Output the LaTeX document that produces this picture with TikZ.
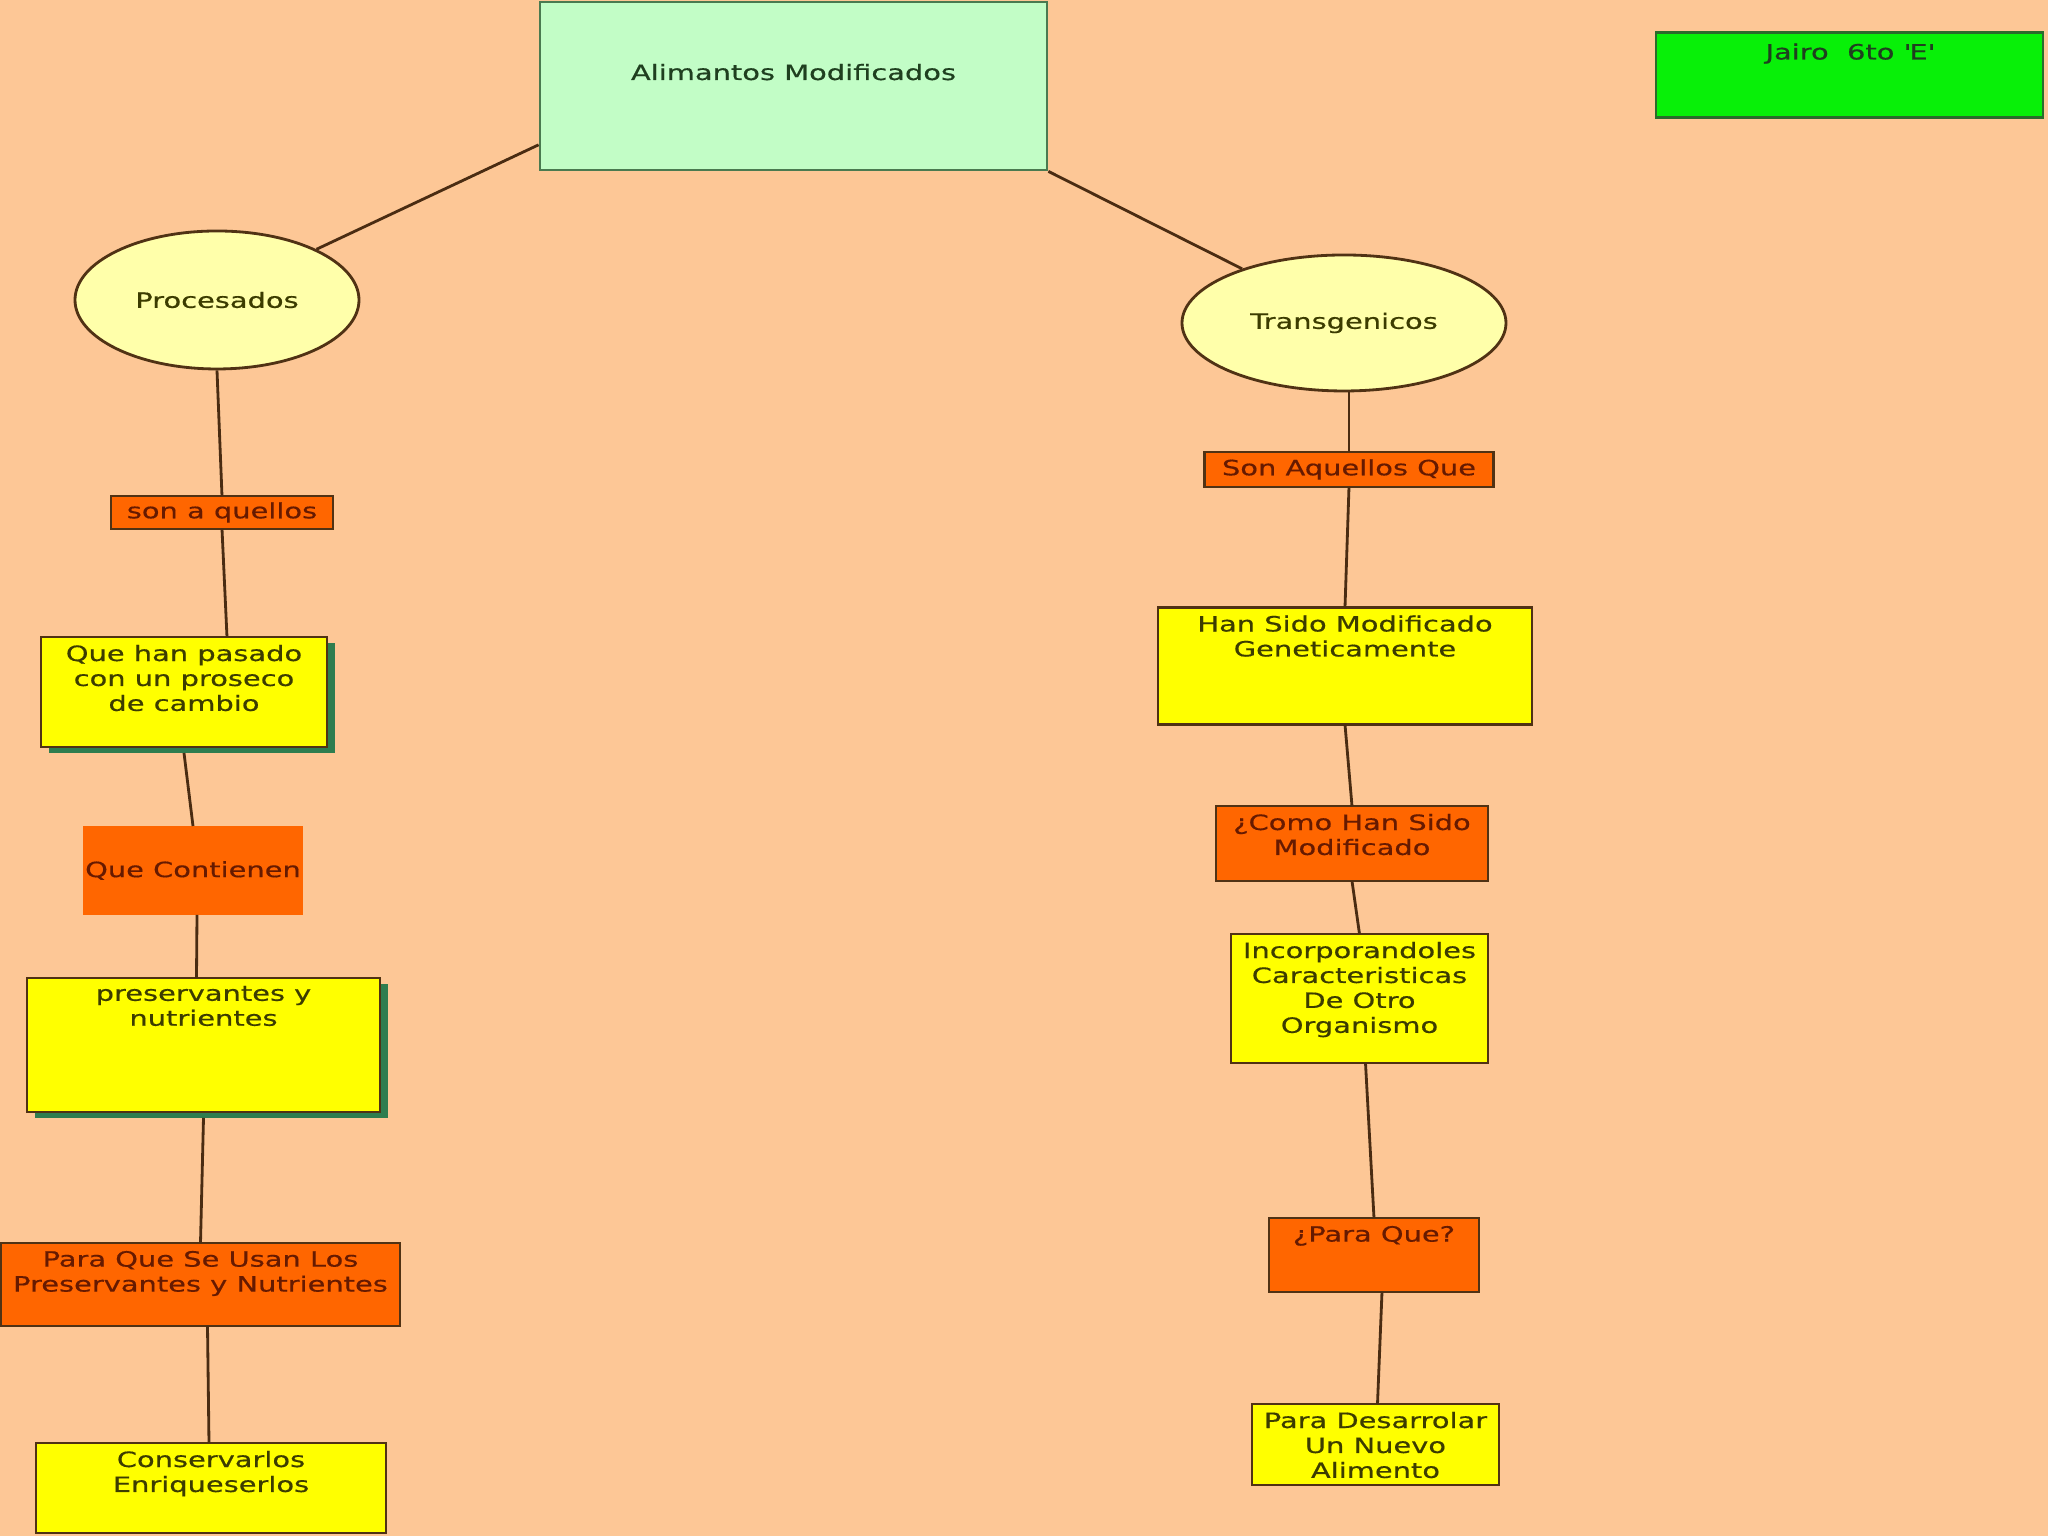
\documentclass[tikz,border=0pt]{standalone}
\usepackage{fontspec}
\setmainfont{DejaVu Sans}[FakeStretch=1.37,FakeBold=0.5]
\usetikzlibrary{shapes.geometric,shadows}

\definecolor{fondo}{HTML}{FDC796}
\definecolor{verdeclaro}{HTML}{C2FDC6}
\definecolor{bordeverde}{HTML}{4A7A50}
\definecolor{verdejairo}{HTML}{08F008}
\definecolor{bordejairo}{HTML}{2B6B2B}
\definecolor{crema}{HTML}{FFFFAA}
\definecolor{amarillo}{HTML}{FFFF00}
\definecolor{anaranjado}{HTML}{FF6600}
\definecolor{borde}{HTML}{503214}
\definecolor{linea}{HTML}{4A2C12}
\definecolor{sombraverde}{HTML}{2E7D4F}
\definecolor{textoama}{HTML}{3C3C00}
\definecolor{textonar}{HTML}{661A00}
\definecolor{textoverde}{HTML}{1F3F1F}

\begin{document}
\begin{tikzpicture}[
		font=\fontsize{6}{7.1}\selectfont,
		line width=0.8pt,
		caja/.style={draw=borde, inner sep=0pt, outer sep=0pt},
		cajaama/.style={caja, fill=amarillo, text=textoama},
		cajanar/.style={caja, fill=anaranjado, text=textonar},
		ovalo/.style={ellipse, draw=borde, fill=crema, inner sep=0pt, text=textoama},
		sombra/.style={drop shadow={shadow xshift=0.08cm, shadow yshift=-0.06cm, fill=sombraverde, opacity=1}},
		arriba/.style n args={3}{
				execute at begin node={\begin{minipage}[c][#2][t]{#1}\centering\vspace*{#3}},
				execute at end node={\end{minipage}},
			},
		liga/.style={draw=linea},
	]
	\useasboundingbox (0,0) rectangle (20.48,15.36);
	\fill[fondo] (0,0) rectangle (20.48,15.36);
	%
	\node[fill=verdeclaro, draw=bordeverde, inner sep=0pt, text=textoverde,
		arriba={5.07cm}{1.68cm}{0.62cm}] (alim) at (7.935,14.50) {Alimantos Modificados};
	\node[fill=verdejairo, draw=bordejairo, inner sep=0pt, text=textoverde,
		arriba={3.87cm}{0.85cm}{0.11cm}] (jairo) at (18.495,14.61) {Jairo\ \ 6to \textquotesingle E\textquotesingle};
	\node[ovalo, minimum width=2.84cm, minimum height=1.38cm] (proc) at (2.17,12.36) {Procesados};
	\node[ovalo, minimum width=3.24cm, minimum height=1.36cm] (trans) at (13.44,12.13) {Transgenicos};
	% procesados
	\node[cajanar, minimum width=2.22cm, minimum height=0.33cm] (sonq) at (2.22,10.235) {son a quellos};
	\node[cajaama, sombra, arriba={2.86cm}{1.10cm}{0.08cm}] (queh) at (1.84,8.44) {Que han pasado\\con un proseco\\de cambio};
	\node[cajanar, draw=none, minimum width=2.20cm, minimum height=0.89cm] (cont) at (1.93,6.655) {Que Contienen};
	\node[cajaama, sombra, arriba={3.53cm}{1.34cm}{0.08cm}] (pres) at (2.035,4.91) {preservantes y\\nutrientes};
	\node[cajanar, arriba={3.99cm}{0.83cm}{0.08cm}] (usan) at (2.005,2.515) {Para Que Se Usan Los\\Preservantes y Nutrientes};
	\node[cajaama, arriba={3.50cm}{0.90cm}{0.08cm}] (cons) at (2.11,0.48) {Conservarlos\\Enriqueserlos};
	% transgenicos
	\node[cajanar, minimum width=2.885cm, minimum height=0.35cm] (sonaq) at (13.49,10.665) {Son Aquellos Que};
	\node[cajaama, arriba={3.74cm}{1.17cm}{0.08cm}] (hans) at (13.45,8.70) {Han Sido Modificado\\Geneticamente};
	\node[cajanar, arriba={2.72cm}{0.75cm}{0.08cm}] (como) at (13.52,6.925) {¿Como Han Sido\\Modificado};
	\node[cajaama, arriba={2.57cm}{1.29cm}{0.08cm}] (inc) at (13.595,5.375) {Incorporandoles\\Caracteristicas\\De Otro\\Organismo};
	\node[cajanar, arriba={2.10cm}{0.74cm}{0.08cm}] (paraq) at (13.74,2.81) {¿Para Que?};
	\node[cajaama, arriba={2.47cm}{0.81cm}{0.08cm}] (desa) at (13.755,0.915) {Para Desarrolar\\Un Nuevo\\Alimento};
	%
	\draw[liga] (alim.193) -- (proc.27);
	\draw[liga] (alim.south east) -- (trans.152);
	\draw[liga] (proc.south) -- (sonq.north);
	\draw[liga] (sonq.south) -- ([xshift=0.05cm]sonq.south |- queh.north);
	\draw[liga] ([yshift=-0.06cm]queh.south) -- (cont.north);
	\draw[liga] ([xshift=0.04cm]cont.south) -- ([xshift=-0.07cm]pres.north);
	\draw[liga] ([yshift=-0.06cm]pres.south) -- (usan.north);
	\draw[liga] ([xshift=0.07cm]usan.south) -- ([xshift=-0.02cm]cons.north);
	%
	\draw[liga] (sonaq.north |- trans.south) -- (sonaq.north);
	\draw[liga] (sonaq.south) -- (hans.north);
	\draw[liga] (hans.south) -- (como.north);
	\draw[liga] (como.south) -- (inc.north);
	\draw[liga] ([xshift=0.06cm]inc.south) -- (paraq.north);
	\draw[liga] ([xshift=0.08cm]paraq.south) -- ([xshift=0.02cm]desa.north);
\end{tikzpicture}
\end{document}
